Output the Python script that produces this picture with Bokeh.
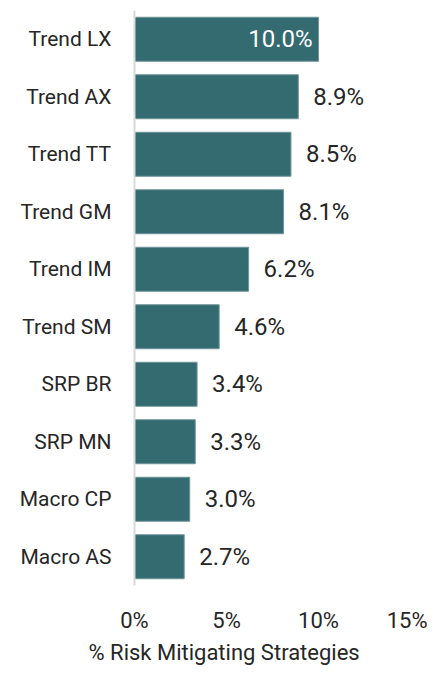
from bokeh.plotting import figure
from bokeh.models import ColumnDataSource, FixedTicker, CustomJSTickFormatter, LabelSet, Title
from bokeh.core.properties import value
from bokeh.embed import file_html
from bokeh.resources import INLINE

categories = ["Trend LX", "Trend AX", "Trend TT", "Trend GM", "Trend IM",
              "Trend SM", "SRP BR", "SRP MN", "Macro CP", "Macro AS"]
values = [10.0, 8.9, 8.5, 8.1, 6.2, 4.6, 3.4, 3.3, 3.0, 2.7]
x_ticks = [0, 5, 10, 15]
x_title = "% Risk Mitigating Strategies"

FONT = "Roboto"
TEXT = "#262626"
BAR = "#336b71"

cats_rev = categories[::-1]
labels = [f"{v:.1f}%" for v in values]
inside = [i == 0 for i in range(len(values))]

out_src = ColumnDataSource(dict(
    y=[c for c, ins in zip(categories, inside) if not ins],
    x=[v for v, ins in zip(values, inside) if not ins],
    t=[l for l, ins in zip(labels, inside) if not ins]))
in_src = ColumnDataSource(dict(
    y=[c for c, ins in zip(categories, inside) if ins],
    x=[v for v, ins in zip(values, inside) if ins],
    t=[l for l, ins in zip(labels, inside) if ins]))
bar_src = ColumnDataSource(dict(y=categories, right=values))

p = figure(frame_width=293, frame_height=575, y_range=cats_rev, x_range=(0, 15.92),
           output_backend="svg", toolbar_location=None,
           min_border_left=134, min_border_right=0, min_border_top=10,
           min_border_bottom=0)
p.hbar(y="y", right="right", left=0, height=0.765, source=bar_src,
       fill_color=BAR, line_color="#6f9599", line_width=1)

p.add_layout(LabelSet(x="x", y="y", text="t", source=out_src, x_offset=15,
                      text_align="left", text_baseline="middle",
                      text_font=value(FONT), text_font_size=value("24px"),
                      text_color=TEXT))
p.add_layout(LabelSet(x="x", y="y", text="t", source=in_src, x_offset=-6,
                      text_align="right", text_baseline="middle",
                      text_font=value(FONT), text_font_size=value("24px"),
                      text_color="white"))

p.grid.visible = False
p.outline_line_color = None

ya = p.yaxis[0]
ya.axis_line_color = "#d9d9d9"
ya.axis_line_width = 2
ya.major_tick_line_color = None
ya.minor_tick_line_color = None
ya.major_label_standoff = 17
ya.major_label_text_font = FONT
ya.major_label_text_font_size = "21px"
ya.major_label_text_color = TEXT

xa = p.xaxis[0]
xa.ticker = FixedTicker(ticks=x_ticks)
xa.formatter = CustomJSTickFormatter(code="return tick + '%';")
xa.axis_line_color = None
xa.major_tick_line_color = None
xa.minor_tick_line_color = None
xa.major_label_standoff = 16
xa.major_label_text_font = FONT
xa.major_label_text_font_size = "22px"
xa.major_label_text_color = TEXT

xt = Title(text=x_title, align="left", offset=-46, standoff=4,
           text_font=FONT, text_font_size="22px", text_font_style="normal",
           text_color=TEXT)
p.add_layout(xt, "below")

open("out.html", "w").write(file_html(p, INLINE))
